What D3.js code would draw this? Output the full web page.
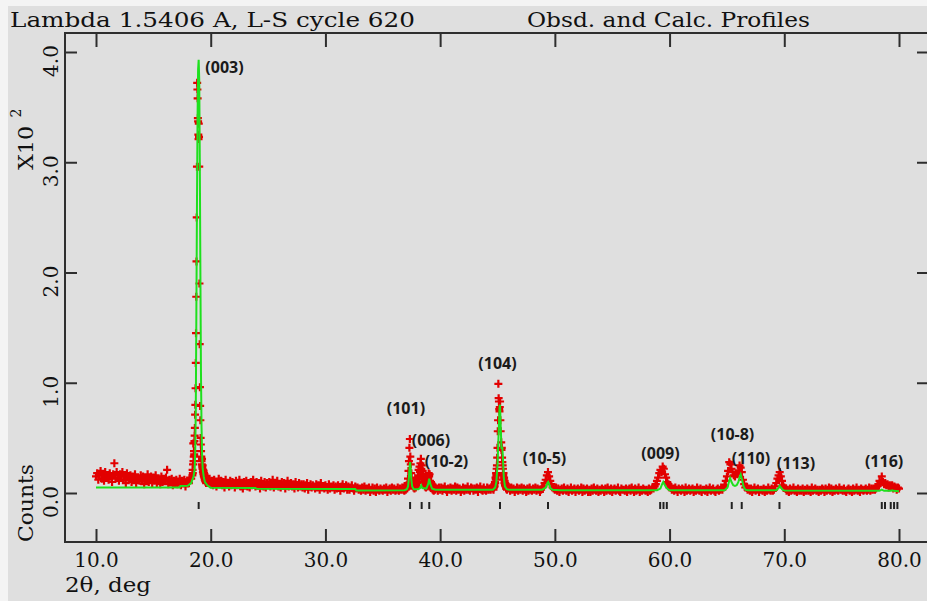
<!DOCTYPE html>
<html><head><meta charset="utf-8">
<script src="https://cdn.jsdelivr.net/npm/d3@7"></script>
<style>html,body{margin:0;padding:0;background:#f4f4f4;}svg{display:block}</style>
</head><body>
<svg id="chart" width="927" height="601"></svg>
<script>
// ---------------- DATA ----------------
const titleLeft = "Lambda 1.5406 A, L-S cycle  620";
const titleRight = "Obsd. and Calc. Profiles";
const xAxisTitle = "2\u03b8, deg";
const yAxisTitle = "Counts";
const yScaleNote = "X10";
const yScaleExp = "2";

const xTickValues = [10, 20, 30, 40, 50, 60, 70, 80];
const xTickLabels = ["10.0", "20.0", "30.0", "40.0", "50.0", "60.0", "70.0", "80.0"];
const yTickValues = [0, 100, 200, 300, 400];
const yTickLabels = ["0.0", "1.0", "2.0", "3.0", "4.0"];

// observed counts, measured on 2θ grids (segment start, step)
const obsStart = [10.0, 18.40, 19.7, 36.80, 39.7, 44.600, 46.0];
const obsStep  = [0.1, 0.02, 0.1, 0.04, 0.1, 0.025, 0.1];
const obsLowAngle = [
  15,18,12,16,20,13,17,11,19,14,
  16,12,18,15,10,17,27,13,19,14,
  11,17,15,19,12,16,9,18,14,13,
  16,10,15,12,17,9,14,13,11,16,
  12,15,8,14,11,17,10,13,15,9,
  14,11,16,9,13,12,8,15,10,13,
  11,14,21,8,12,10,13,7,11,9,
  12,8,10,13,7,11,9,12,6,10,
  11,9,14,13];
const obsPeak003 = [
  16,21,18,26,45,29,33,38,35,47,
  52,59,71,80,95,118,145,178,210,250,
  296,372,366,358,340,337,325,321,335,323,
  296,190,135,96,79,66,50,44,38,33,
  29,26,31,24,22,25,19,21,17,20,
  15,18,14,17,12,15,11,14,10,13,9];
const obsMid = [
  12,9,13,
  8,11,7,12,9,6,10,13,8,11,
  7,10,5,12,8,9,6,11,7,10,
  9,5,11,7,8,12,6,9,4,10,
  8,11,6,9,5,10,7,12,8,6,
  10,7,9,4,11,8,6,10,5,9,
  7,10,6,8,12,5,9,7,11,6,
  8,5,10,7,9,4,8,11,6,7,
  9,6,8,4,10,7,5,9,6,8,
  5,8,4,7,9,3,6,8,5,7,
  6,4,8,5,7,3,9,5,6,4,
  7,5,3,8,4,6,5,7,3,6,
  4,7,5,2,6,8,4,5,7,3,
  6,3,5,7,4,2,6,4,5,3,
  4,2,5,3,6,2,4,3,5,1,
  3,5,2,4,1,5,3,2,4,3,
  2,4,3,5,1,3,4,2,5,3,
  4,2,3,5,2,4,3,5];
const obsPeaks101 = [
  3,5,2,4,6,3,5,7,4,9,
  13,20,29,41,49,33,26,18,14,9,
  11,7,5,8,4,6,9,5,7,10,
  13,9,16,21,14,24,19,27,31,22,
  25,17,20,12,15,9,11,6,8,5,
  7,9,6,10,13,18,15,17,11,8,
  10,6,4,7,3,5,2,4,6,3,5];
const obsBeforeFour = [
  4,2,5,
  3,5,2,4,6,3,1,4,3,5,
  2,4,3,6,2,5,3,4,1,3,
  5,2,4,3,6,3,2,5,4,2,
  4,3,5,1,4,6,3,2,5,3,
  2,5,3,4,3,5];
const obsPeak104 = [
  4,6,3,7,5,8,6,10,9,14,
  12,18,16,22,25,32,41,56,66,99,
  86,83,76,74,78,83,66,56,41,46,
  39,41,32,28,25,22,16,18,12,14,
  9,11,7,9,6,8,4,7,5,3,
  6,4,5];
const obsHighAngle = [
  4,2,5,3,4,1,3,5,2,4,
  3,5,2,4,3,1,4,2,5,3,
  2,4,3,5,2,4,3,1,3,5,
  6,9,12,16,19,15,11,8,5,4,
  3,5,2,4,1,3,4,2,5,3,
  2,4,1,3,5,2,3,4,1,3,
  4,2,3,5,1,4,2,3,4,1,
  3,1,4,2,5,3,2,4,1,3,
  2,4,3,1,4,2,5,3,2,4,
  1,3,4,2,3,5,2,1,4,3,
  3,2,4,1,3,4,2,5,3,1,
  4,2,3,5,1,3,2,4,3,2,
  3,1,4,2,3,5,4,6,8,11,
  14,18,21,19,24,22,17,14,10,8,
  5,6,3,4,2,5,3,1,4,3,
  2,4,3,1,5,2,3,4,2,3,
  4,1,3,2,5,3,2,4,1,3,
  3,2,4,1,3,5,2,3,4,2,
  1,3,4,2,3,5,3,5,7,11,
  15,20,28,26,22,19,16,15,18,17,
  20,25,23,19,12,8,5,6,3,4,
  2,4,1,3,5,2,3,4,1,3,
  3,2,4,1,3,2,5,3,2,4,
  2,3,6,9,13,16,19,15,11,7,
  5,4,2,3,1,4,2,3,5,2,
  3,1,4,2,3,2,4,1,3,2,
  4,2,3,1,5,2,3,4,2,3,
  1,3,2,4,3,1,4,2,3,5,
  2,4,1,3,2,4,3,2,5,3,
  3,2,4,2,1,3,4,2,3,1,
  4,2,3,5,2,3,1,4,3,2,
  3,4,2,3,5,2,4,3,4,3,
  4,6,8,11,9,15,10,8,9,7,
  8,5,7,6,7,4,6,5,3,5,
  4];
const obsSegments = [obsLowAngle, obsPeak003, obsMid, obsPeaks101, obsBeforeFour, obsPeak104, obsHighAngle];

// calculated profile (2θ, counts)
const calcTheta = [10.0,17.3,17.35,18.0,18.3,18.5,18.6,18.65,18.7,18.75,18.8,18.85,18.9,18.95,19.0,19.05,19.1,19.15,19.2,19.25,19.3,19.4,19.5,19.7,20.0,23.9,24.0,32.6,32.7,
  36.9,37.1,37.2,37.28,37.34,37.38,37.42,37.48,37.56,37.7,38.1,38.25,38.35,38.45,38.8,38.95,39.05,39.15,39.3,39.6,
  44.6,44.8,44.9,45.0,45.1,45.18,45.22,45.28,45.35,45.42,45.48,45.55,45.65,45.8,46.0,
  48.9,49.2,49.35,49.42,49.5,49.6,49.8,50.5,58.9,59.2,59.35,59.45,59.55,59.7,59.85,60.0,
  64.8,65.05,65.2,65.28,65.4,65.55,65.7,65.85,66.0,66.12,66.2,66.3,66.45,66.6,66.8,
  69.3,69.5,69.6,69.7,69.85,70.0,78.3,78.5,78.7,79.3,79.4,79.5,80.0];
const calcCounts = [5,5,6.3,6.5,9,15,21,38,78,165,258,338,384,393,375,300,200,110,60,35,22,14,10,7,4.8,4.5,3.8,3.6,2.2,
  2.5,3.5,6,14,24,28,24,13,6,3.5,3.5,4.5,7,4.5,4,8,13,8,4,3,
  3,5,10,25,55,78,80,60,40,42,30,14,6,3.5,3,
  3,5,9,10,8,4.5,3,2.5,2.5,4,8,10,8,5,3.5,2.5,
  2.5,5,11,13.5,10,7,6.5,7,10,15,17,13,6,3,2.5,
  2.5,4.5,6.5,5,3,2.2,2,3,2,2,2.5,2,1.5];

// reflection positions (2θ)
const reflections = [18.95, 37.38, 38.39, 39.05, 45.22, 49.4, 59.18, 59.47, 59.76, 65.42, 66.29, 69.58, 78.5, 78.78, 79.28, 79.57, 79.86];

// peak (hkl) annotations: text, 2θ of label centre, counts level of label baseline
const peakLabels = ["(003)", "(101)", "(006)", "(10-2)", "(104)", "(10-5)", "(009)", "(10-8)", "(110)", "(113)", "(116)"];
const peakLabelTheta = [21.2, 37.02, 39.2, 40.56, 45.0, 49.1, 59.21, 65.49, 67.1, 71.02, 78.7];
const peakLabelCounts = [381, 71.5, 42.5, 23.5, 112.5, 26.3, 30.8, 48.1, 26.3, 21.8, 23.6];

// ---------------- DRAW ----------------
const svg = d3.select("#chart");
const W = 927, H = 601;
const frame = {left: 65, right: 929, top: 33, bottom: 542};
const x = d3.scaleLinear().domain([10, 80]).range([96, 899]);
const y = d3.scaleLinear().domain([0, 400]).range([493, 52]);

const serif = "'DejaVu Serif', 'Liberation Serif', serif";
const axisColor = "#2e2e2e";

svg.append("rect").attr("x", 8).attr("y", 6).attr("width", W - 8).attr("height", H - 6).attr("fill", "#dfdfdf");

// observed points
const obsPts = [];
obsSegments.forEach((vals, s) => {
  vals.forEach((c, i) => obsPts.push([obsStart[s] + i * obsStep[s], c]));
});
const half = 4;
const plusPath = obsPts.map(p => {
  const px = x(p[0]), py = y(p[1]);
  return `M${(px - half).toFixed(2)},${py.toFixed(2)}h${2*half}M${px.toFixed(2)},${(py - half).toFixed(2)}v${2*half}`;
}).join("");
svg.append("path").attr("d", plusPath).attr("fill", "none")
  .attr("stroke", "#e20000").attr("stroke-width", 2.2);

// calculated line
const calc = calcTheta.map((t, i) => [t, calcCounts[i]]);
svg.append("path").datum(calc)
  .attr("d", d3.line().x(d => x(d[0])).y(d => y(d[1])))
  .attr("fill", "none").attr("stroke", "#1ee01e").attr("stroke-width", 2);

// reflection ticks
svg.append("g").selectAll("line").data(reflections).join("line")
  .attr("x1", d => x(d)).attr("x2", d => x(d))
  .attr("y1", 502).attr("y2", 509)
  .attr("stroke", "#222").attr("stroke-width", 2);

// frame
svg.append("rect").attr("x", frame.left).attr("y", frame.top)
  .attr("width", frame.right - frame.left).attr("height", frame.bottom - frame.top)
  .attr("fill", "none").attr("stroke", axisColor).attr("stroke-width", 2);

function styleAxis(g) {
  g.select(".domain").remove();
  g.selectAll(".tick line").attr("stroke", axisColor).attr("stroke-width", 2);
}

// bottom axis
const gB = svg.append("g").attr("transform", `translate(0,${frame.bottom})`)
  .call(d3.axisBottom(x).tickValues(xTickValues).tickFormat((d, i) => xTickLabels[i])
    .tickSizeInner(-13).tickSizeOuter(0).tickPadding(11));
styleAxis(gB);
gB.selectAll(".tick text").attr("font-family", serif).attr("font-size", 20).attr("fill", "#111");

// top axis
const gT = svg.append("g").attr("transform", `translate(0,${frame.top})`)
  .call(d3.axisTop(x).tickValues(xTickValues).tickFormat("").tickSizeInner(-14).tickSizeOuter(0));
styleAxis(gT);

// left axis
const gL = svg.append("g").attr("transform", `translate(${frame.left},0)`)
  .call(d3.axisLeft(y).tickValues(yTickValues).tickFormat("").tickSizeInner(-12).tickSizeOuter(0));
styleAxis(gL);

// right axis
const gR = svg.append("g").attr("transform", `translate(${frame.right},0)`)
  .call(d3.axisRight(y).tickValues(yTickValues).tickFormat("").tickSizeInner(-12).tickSizeOuter(0));
styleAxis(gR);

// rotated y tick labels
svg.append("g").selectAll("text").data(yTickValues).join("text")
  .attr("transform", d => `translate(58,${y(d) + 9}) rotate(-90)`)
  .attr("text-anchor", "middle").attr("font-family", serif).attr("font-size", 20).attr("fill", "#111")
  .text((d, i) => yTickLabels[i]);

// titles
svg.append("text").attr("x", 10).attr("y", 27).attr("font-family", serif).attr("font-size", 20)
  .attr("fill", "#111").attr("textLength", 405).attr("lengthAdjust", "spacingAndGlyphs").text(titleLeft);
svg.append("text").attr("x", 527).attr("y", 27).attr("font-family", serif).attr("font-size", 20)
  .attr("fill", "#111").attr("textLength", 283).attr("lengthAdjust", "spacingAndGlyphs").text(titleRight);
svg.append("text").attr("x", 65).attr("y", 592).attr("font-family", serif).attr("font-size", 20)
  .attr("fill", "#111").attr("textLength", 86).attr("lengthAdjust", "spacingAndGlyphs").text(xAxisTitle);
svg.append("text").attr("transform", "translate(33,503) rotate(-90)").attr("text-anchor", "middle")
  .attr("font-family", serif).attr("font-size", 20).attr("fill", "#111")
  .attr("textLength", 78).attr("lengthAdjust", "spacingAndGlyphs").text(yAxisTitle);
svg.append("text").attr("transform", "translate(33,148) rotate(-90)").attr("text-anchor", "middle")
  .attr("font-family", serif).attr("font-size", 20).attr("fill", "#111")
  .attr("textLength", 44).attr("lengthAdjust", "spacingAndGlyphs").text(yScaleNote);
svg.append("text").attr("transform", "translate(21,113) rotate(-90)").attr("text-anchor", "middle")
  .attr("font-family", serif).attr("font-size", 14).attr("fill", "#111").text(yScaleExp);

// peak labels
svg.append("g").selectAll("text").data(peakLabels).join("text")
  .attr("x", (d, i) => x(peakLabelTheta[i]))
  .attr("y", (d, i) => y(peakLabelCounts[i]))
  .attr("text-anchor", "middle")
  .attr("font-family", "'Open Sans', 'Lato', sans-serif").attr("font-weight", 700).attr("font-size", 16)
  .attr("fill", "#1a1a1a").text(d => d);
</script>
</body></html>
